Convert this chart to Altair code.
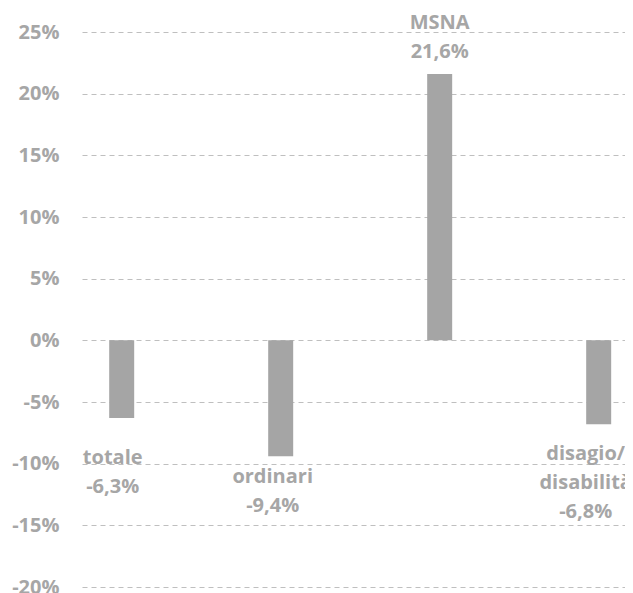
import altair as alt
import pandas as pd

# ---- data ----
categories = ["totale", "ordinari", "MSNA", "disagio/\ndisabilità"]
values = [-6.3, -9.4, 21.6, -6.8]
y_ticks = [-20, -15, -10, -5, 0, 5, 10, 15, 20, 25]

# ---- label styling (pixel offsets from the bar end to the first label line) ----
label_offsets = {
    "totale": (-9, 40),
    "ordinari": (-8, 21),
    "MSNA": (0, -51),
    "disagio/\ndisabilità": (-13, 30),
}

def fmt(v):
    return f"{v:.1f}".replace(".", ",") + "%"

df = pd.DataFrame({
    "cat": categories,
    "value": values,
})
df["label"] = [c + "\n" + fmt(v) for c, v in zip(categories, values)]

GRAY_TXT = "#A6A6A6"
BAR = "#A5A5A5"
FONT = "Open Sans"

x_enc = alt.X(
    "cat:N",
    sort=categories,
    axis=None,
    scale=alt.Scale(paddingInner=0.8428, paddingOuter=0.129, align=0.663),
)
y_enc = alt.Y(
    "value:Q",
    scale=alt.Scale(domain=[-20, 25], nice=False, zero=False),
    axis=alt.Axis(
        values=y_ticks,
        labelExpr="datum.value + '%'",
        title=None,
        domain=False,
        ticks=False,
        labelPadding=23,
        labelFont=FONT,
        labelFontSize=20,
        labelFontWeight="bold",
        labelColor=GRAY_TXT,
        grid=True,
        gridColor="#BFBFBF",
        gridDash=[5, 4],
        gridWidth=1,
    ),
)

base = alt.Chart(df)
bars = base.mark_bar(color=BAR).encode(x=x_enc, y=y_enc)

layers = [bars]
for c in categories:
    dx, dy = label_offsets[c]
    layers.append(
        base.transform_filter(alt.datum.cat == c)
        .mark_text(
            dx=dx, dy=dy, font=FONT, fontSize=20, fontWeight="bold",
            color=GRAY_TXT, lineBreak="\n", lineHeight=29,
            align="center", baseline="middle",
        )
        .encode(x=x_enc, y=y_enc, text="label:N")
    )

chart = alt.layer(*layers).properties(
    width=543,
    height=555,
    autosize=alt.AutoSizeParams(type="none"),
    padding={"left": 74, "top": 24, "right": 0, "bottom": 10},
).configure_view(stroke=None)

chart.save("out.html", embed_options={"renderer": "svg", "actions": False})
